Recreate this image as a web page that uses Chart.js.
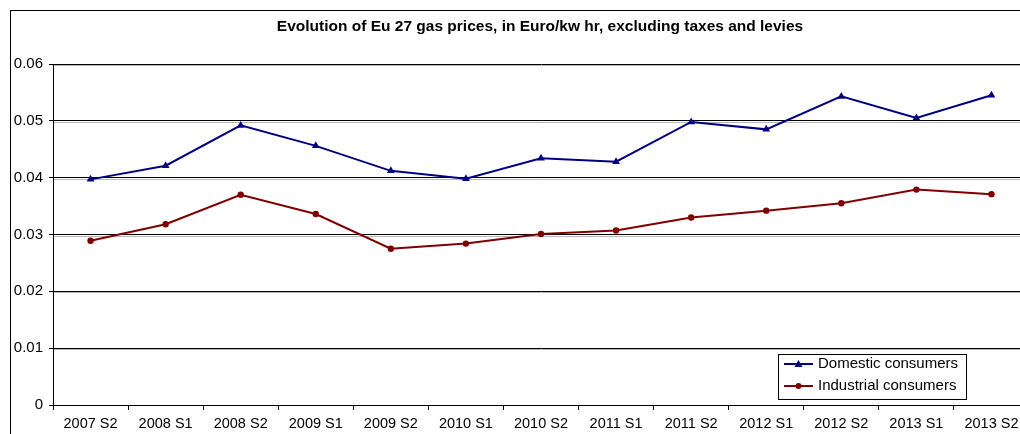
<!DOCTYPE html>
<html>
<head>
<meta charset="utf-8">
<script src="https://cdn.jsdelivr.net/npm/chart.js@4/dist/chart.umd.min.js"></script>
<style>
  html, body { margin: 0; padding: 0; background: #fff; overflow: hidden; }
  #wrap { width: 1020px; height: 434px; overflow: hidden; position: relative; }
  #box { width: 1060px; height: 434px; position: absolute; left: 0; top: 0; }
</style>
</head>
<body>
<div id="wrap"><div id="box"><canvas id="graficaGas"></canvas></div></div>
<script>
// semesters and prices (Euro/kWh, without taxes and levies)
const periodos = ['2007 S2', '2008 S1', '2008 S2', '2009 S1', '2009 S2', '2010 S1', '2010 S2',
                  '2011 S1', '2011 S2', '2012 S1', '2012 S2', '2013 S1', '2013 S2'];
const domesticos = [0.0397, 0.0421, 0.0492, 0.0456, 0.0412, 0.0398, 0.0434,
                    0.0428, 0.0498, 0.0485, 0.0543, 0.0505, 0.0545];
const industriales = [0.0289, 0.0318, 0.0370, 0.0336, 0.0275, 0.0284, 0.0301,
                      0.0307, 0.0330, 0.0342, 0.0355, 0.0379, 0.0371];
const titulo = 'Evolution of Eu 27 gas prices, in Euro/kw hr, excluding taxes and levies';

const FUENTE = '"Liberation Sans", Arial, sans-serif';

// soft grey shadow under each horizontal grid line
const sombra = {
    id: 'sombra',
    beforeDatasetsDraw(chart) {
        const ctx = chart.ctx, y = chart.scales.y, area = chart.chartArea;
        ctx.save();
        ctx.strokeStyle = '#b8b8b8';
        ctx.lineWidth = 1;
        y.ticks.forEach(t => {
            if (t.value === 0) return;
            const py = Math.round(y.getPixelForValue(t.value)) + 1.5;
            ctx.beginPath();
            ctx.moveTo(area.left + 1, py);
            ctx.lineTo(area.right, py);
            ctx.stroke();
        });
        ctx.restore();
    }
};

// frame, title and legend box drawn on top of the chart
const marco = {
    id: 'marco',
    afterDraw(chart) {
        const ctx = chart.ctx;
        ctx.save();
        ctx.strokeStyle = '#000';
        ctx.lineWidth = 1;
        ctx.strokeRect(10.5, 10.5, 1200, 600);

        ctx.fillStyle = '#000';
        ctx.font = 'bold 15.5px ' + FUENTE;
        ctx.textAlign = 'center';
        ctx.textBaseline = 'middle';
        ctx.fillText(titulo, 540, 27);

        // legend
        const lx = 778.5, ly = 354.5, lw = 188, lh = 45;
        ctx.fillStyle = '#fff';
        ctx.fillRect(lx, ly, lw, lh);
        ctx.strokeStyle = '#000';
        ctx.strokeRect(lx, ly, lw, lh);
        ctx.font = '15px ' + FUENTE;
        ctx.textAlign = 'left';
        chart.data.datasets.forEach((ds, i) => {
            const y = 364 + i * 22;
            ctx.strokeStyle = ds.borderColor;
            ctx.lineWidth = 2;
            ctx.beginPath();
            ctx.moveTo(784, y);
            ctx.lineTo(813, y);
            ctx.stroke();
            ctx.fillStyle = ds.borderColor;
            ctx.beginPath();
            if (ds.pointStyle === 'triangle') {
                ctx.moveTo(798.5, y - 4);
                ctx.lineTo(802.5, y + 3);
                ctx.lineTo(794.5, y + 3);
                ctx.closePath();
            } else {
                ctx.arc(798.5, y, 3, 0, Math.PI * 2);
            }
            ctx.fill();
            ctx.fillStyle = '#000';
            ctx.fillText(ds.label, 818, y);
        });
        ctx.restore();
    }
};

let ctx = document.getElementById('graficaGas').getContext('2d');
new Chart(ctx, {
    type: 'line',
    data: {
        labels: periodos,
        datasets: [
            {
                label: 'Domestic consumers',
                data: domesticos,
                borderColor: '#000080',
                backgroundColor: '#000080',
                borderWidth: 2,
                pointStyle: 'triangle',
                pointRadius: 4.5,
                pointBorderWidth: 0,
                tension: 0
            },
            {
                label: 'Industrial consumers',
                data: industriales,
                borderColor: '#800000',
                backgroundColor: '#800000',
                borderWidth: 2,
                pointStyle: 'circle',
                pointRadius: 3.2,
                pointBorderWidth: 0,
                tension: 0
            }
        ]
    },
    options: {
        responsive: true,
        maintainAspectRatio: false,
        animation: false,
        layout: { padding: { top: 64, left: 10, right: 31, bottom: 0 } },
        plugins: {
            legend: { display: false },
            title: { display: false },
            tooltip: { enabled: false }
        },
        scales: {
            x: {
                offset: true,
                grid: {
                    offset: true,
                    drawOnChartArea: false,
                    color: '#000',
                    tickLength: 5,
                    tickColor: '#000'
                },
                border: { color: '#000', width: 1 },
                ticks: {
                    color: '#000',
                    font: { family: FUENTE, size: 14.5 },
                    padding: 5,
                    maxRotation: 0,
                    autoSkip: false
                },
                afterFit(scale) { scale.height = 29; }
            },
            y: {
                min: 0,
                max: 0.06,
                grid: {
                    color: '#000',
                    tickLength: 4,
                    tickColor: '#000'
                },
                border: { color: '#000', width: 1 },
                ticks: {
                    stepSize: 0.01,
                    color: '#000',
                    font: { family: FUENTE, size: 15 },
                    padding: 6,
                    callback: v => v === 0 ? '0' : v.toFixed(2)
                },
                afterFit(scale) { scale.width = 43; }
            }
        }
    },
    plugins: [sombra, marco]
});
</script>
</body>
</html>
